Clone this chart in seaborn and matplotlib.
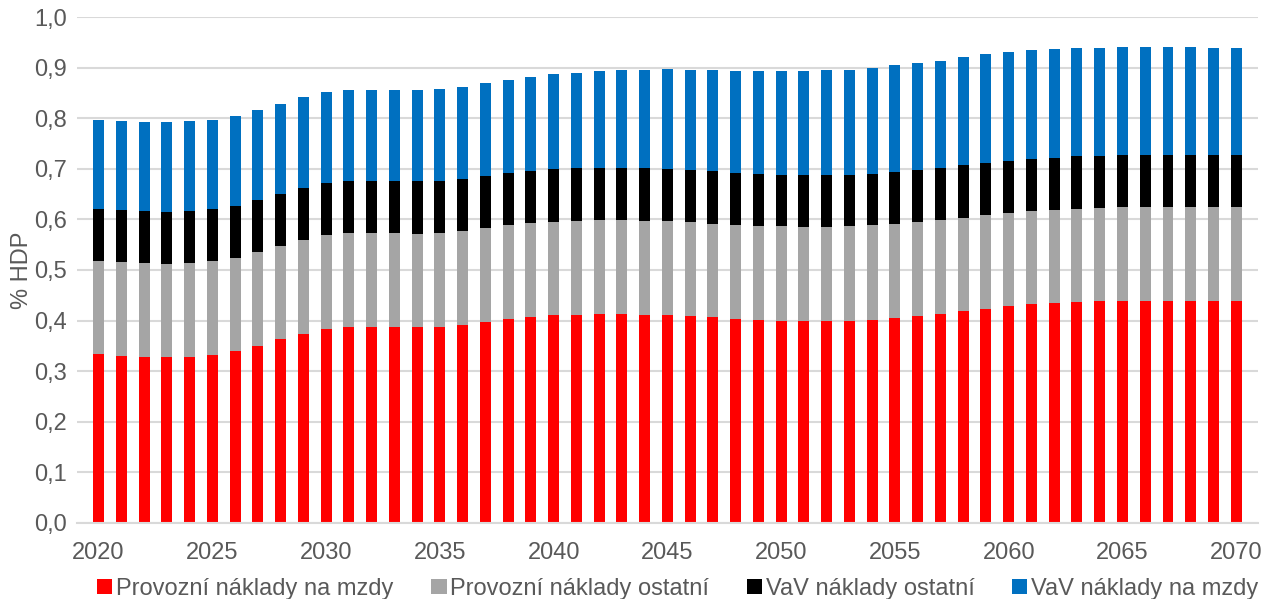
import numpy as np
import matplotlib
matplotlib.use('Agg')
import matplotlib.pyplot as plt
from matplotlib.patches import Patch
import seaborn as sns

# =========== DATA (% HDP) =============
years = list(range(2020, 2071))

provozni_mzdy = [0.334, 0.331, 0.329, 0.328, 0.329, 0.332, 0.339, 0.350, 0.363, 0.374,
                 0.384, 0.388, 0.388, 0.387, 0.387, 0.387, 0.392, 0.398, 0.403, 0.408,
                 0.411, 0.412, 0.413, 0.413, 0.412, 0.411, 0.409, 0.407, 0.404, 0.402,
                 0.400, 0.400, 0.400, 0.400, 0.402, 0.405, 0.409, 0.413, 0.418, 0.423,
                 0.428, 0.432, 0.434, 0.436, 0.438, 0.439, 0.439, 0.439, 0.439, 0.439,
                 0.439]

provozni_ostatni = [0.184, 0.184, 0.185, 0.184, 0.185, 0.185, 0.185, 0.185, 0.184, 0.185,
                    0.185, 0.185, 0.185, 0.186, 0.185, 0.186, 0.185, 0.185, 0.185, 0.184,
                    0.184, 0.185, 0.186, 0.185, 0.185, 0.185, 0.185, 0.184, 0.185, 0.185,
                    0.186, 0.184, 0.184, 0.186, 0.186, 0.185, 0.185, 0.186, 0.185, 0.185,
                    0.185, 0.184, 0.184, 0.185, 0.185, 0.185, 0.186, 0.186, 0.186, 0.185,
                    0.185]

vav_ostatni = [0.103, 0.103, 0.103, 0.103, 0.103, 0.104, 0.102, 0.103, 0.103, 0.103,
               0.103, 0.103, 0.103, 0.103, 0.103, 0.103, 0.103, 0.103, 0.103, 0.104,
               0.104, 0.104, 0.103, 0.104, 0.104, 0.103, 0.103, 0.104, 0.103, 0.103,
               0.102, 0.104, 0.104, 0.102, 0.102, 0.103, 0.103, 0.102, 0.104, 0.103,
               0.102, 0.103, 0.104, 0.104, 0.103, 0.104, 0.103, 0.103, 0.103, 0.104,
               0.103]

vav_mzdy = [0.176, 0.176, 0.176, 0.177, 0.177, 0.176, 0.178, 0.178, 0.178, 0.179,
            0.179, 0.179, 0.180, 0.179, 0.180, 0.181, 0.182, 0.183, 0.185, 0.186,
            0.188, 0.189, 0.191, 0.193, 0.195, 0.198, 0.198, 0.200, 0.201, 0.203,
            0.205, 0.205, 0.207, 0.208, 0.210, 0.212, 0.212, 0.213, 0.213, 0.215,
            0.215, 0.215, 0.215, 0.213, 0.213, 0.212, 0.213, 0.213, 0.212, 0.211,
            0.211]

series_labels = ['Provozní náklady na mzdy', 'Provozní náklady ostatní',
                 'VaV náklady ostatní', 'VaV náklady na mzdy']
series_colors = ['#ff0000', '#a5a5a5', '#000000', '#0070c0']

y_ticks = [0.0, 0.1, 0.2, 0.3, 0.4, 0.5, 0.6, 0.7, 0.8, 0.9, 1.0]
x_tick_years = years[::5]

# =========== PLOT =============
sns.set_style('white')
plt.rcParams['font.family'] = ['Liberation Sans', 'DejaVu Sans']
text_grey = '#595959'
fsize = 17

fig = plt.figure(figsize=(12.62, 5.99), dpi=100)
ax = fig.add_axes([0.061, 0.1269, 0.9357, 0.8447])

series = [provozni_mzdy, provozni_ostatni, vav_ostatni, vav_mzdy]
bottom = np.zeros(len(years))
for vals, col in zip(series, series_colors):
    sns.barplot(x=years, y=vals, bottom=bottom, color=col, saturation=1,
                width=0.48, errorbar=None, ax=ax, linewidth=0)
    bottom += np.array(vals)

ax.set_xlim(-0.95, 50.95)
ax.set_ylim(0, 1.0)
ax.set_xticks([years.index(y) for y in x_tick_years])
ax.set_xticklabels([str(y) for y in x_tick_years])
ax.set_yticks(y_ticks)
ax.set_yticklabels([f'{v:.1f}'.replace('.', ',') for v in y_ticks])

ax.yaxis.grid(True, color='#d9d9d9', linewidth=1.5)
ax.set_axisbelow(True)
for s in ['top', 'right', 'left']:
    ax.spines[s].set_visible(False)
ax.spines['bottom'].set_color('#d9d9d9')
ax.spines['bottom'].set_linewidth(1.5)

ax.tick_params(axis='x', length=0, pad=14, labelsize=fsize, labelcolor=text_grey)
ax.tick_params(axis='y', length=0, pad=7, labelsize=fsize, labelcolor=text_grey)
ax.set_xlabel('')
ax.set_ylabel('% HDP', fontsize=fsize, color=text_grey, labelpad=1)

handles = [Patch(facecolor=c, edgecolor='none') for c in series_colors]
fig.legend(handles, series_labels, loc='center', bbox_to_anchor=(0.537, 0.017),
           ncol=4, frameon=False, fontsize=fsize, labelcolor=text_grey,
           handlelength=0.65, handleheight=0.65, handletextpad=0.15,
           columnspacing=1.6, borderpad=0, borderaxespad=0)

plt.savefig('out.png', dpi=100)
